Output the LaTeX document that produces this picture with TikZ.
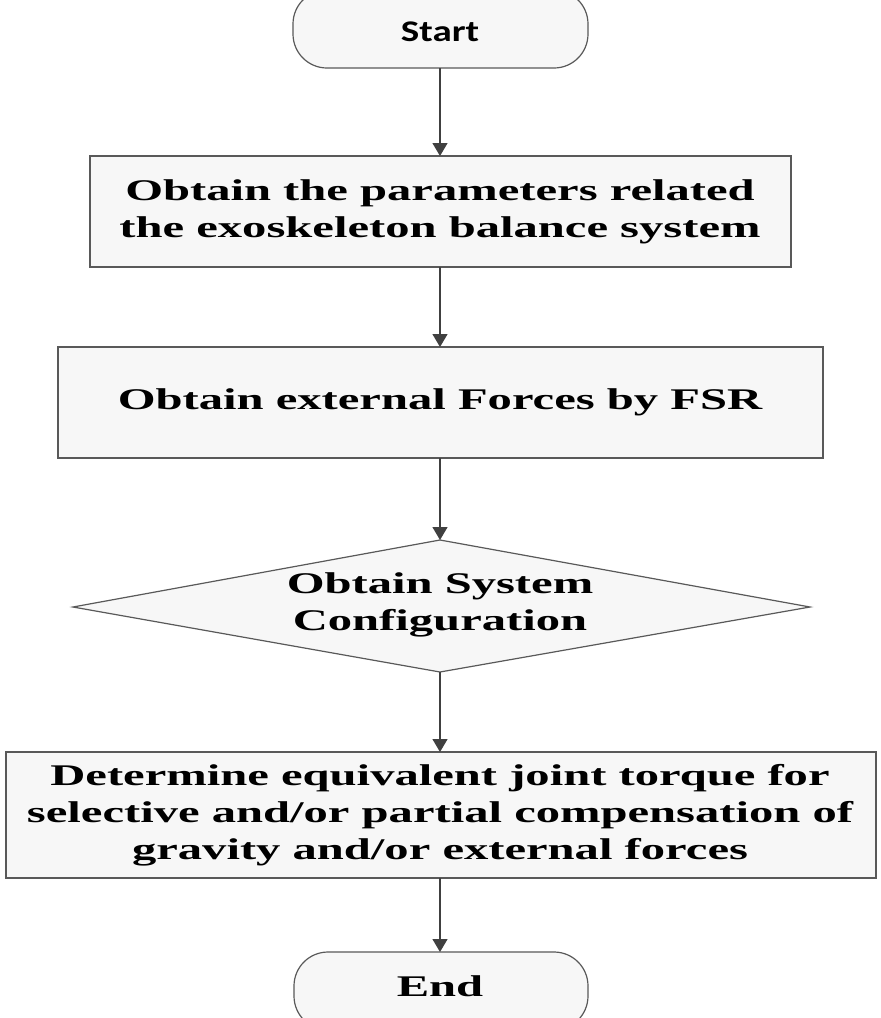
\documentclass[tikz,border=0pt]{standalone}
\usepackage{fontspec}
\usepackage{graphicx}
\setmainfont{Liberation Serif}
\newfontfamily\carl{Carlito}
\usetikzlibrary{arrows.meta}
\newcommand{\sxt}[1]{\scalebox{1.62}[1]{\begin{tabular}{@{}c@{}}#1\end{tabular}}}
\begin{document}
\begin{tikzpicture}[x=1pt,y=-1pt,
  shp/.style={draw=black!65,line width=1.2pt,fill=black!3},
  txt/.style={font=\fontsize{30}{37}\selectfont\bfseries,inner sep=0pt},
  arr/.style={draw=black!75,line width=1.3pt,-{Triangle[length=13pt,width=15pt]}}]
\useasboundingbox (0,0) rectangle (881,1018);
\fill[white] (0,0) rectangle (881,1018);
\draw[shp,rounded corners=34pt] (293,-10) rectangle (588,68);
\node[txt] (s) at (440,32) {\carl\scalebox{1.3}[1]{Start}};
\coordinate (sb) at (440,68);
\draw[shp] (90,156) rectangle (791,267);
\node[txt] (b1) at (440,212) {\sxt{Obtain the parameters related\\the exoskeleton balance system}};
\coordinate (b1t) at (440,156); \coordinate (b1b) at (440,267);
\draw[shp] (58,347) rectangle (823,458);
\node[txt] (b2) at (440,402) {\sxt{Obtain external Forces by FSR}};
\coordinate (b2t) at (440,347); \coordinate (b2b) at (440,458);
\draw[shp] (73,607) -- (440,540) -- (810,607) -- (440,672) -- cycle;
\node[txt] (d) at (440,605) {\sxt{Obtain System\\Configuration}};
\coordinate (dt) at (440,540); \coordinate (db) at (440,672);
\draw[shp] (6,752) rectangle (876,878);
\node[txt] (b3) at (440,815) {\sxt{Determine equivalent joint torque for\\selective and/or partial compensation of\\gravity and/or external forces}};
\coordinate (b3t) at (440,752); \coordinate (b3b) at (440,878);
\draw[shp,rounded corners=34pt] (294,952) rectangle (588,1030);
\node[txt] (e) at (440,989) {\sxt{End}};
\coordinate (et) at (440,952);
\draw[arr] (sb) -- (b1t);
\draw[arr] (b1b) -- (b2t);
\draw[arr] (b2b) -- (dt);
\draw[arr] (db) -- (b3t);
\draw[arr] (b3b) -- (et);
\end{tikzpicture}
\end{document}
